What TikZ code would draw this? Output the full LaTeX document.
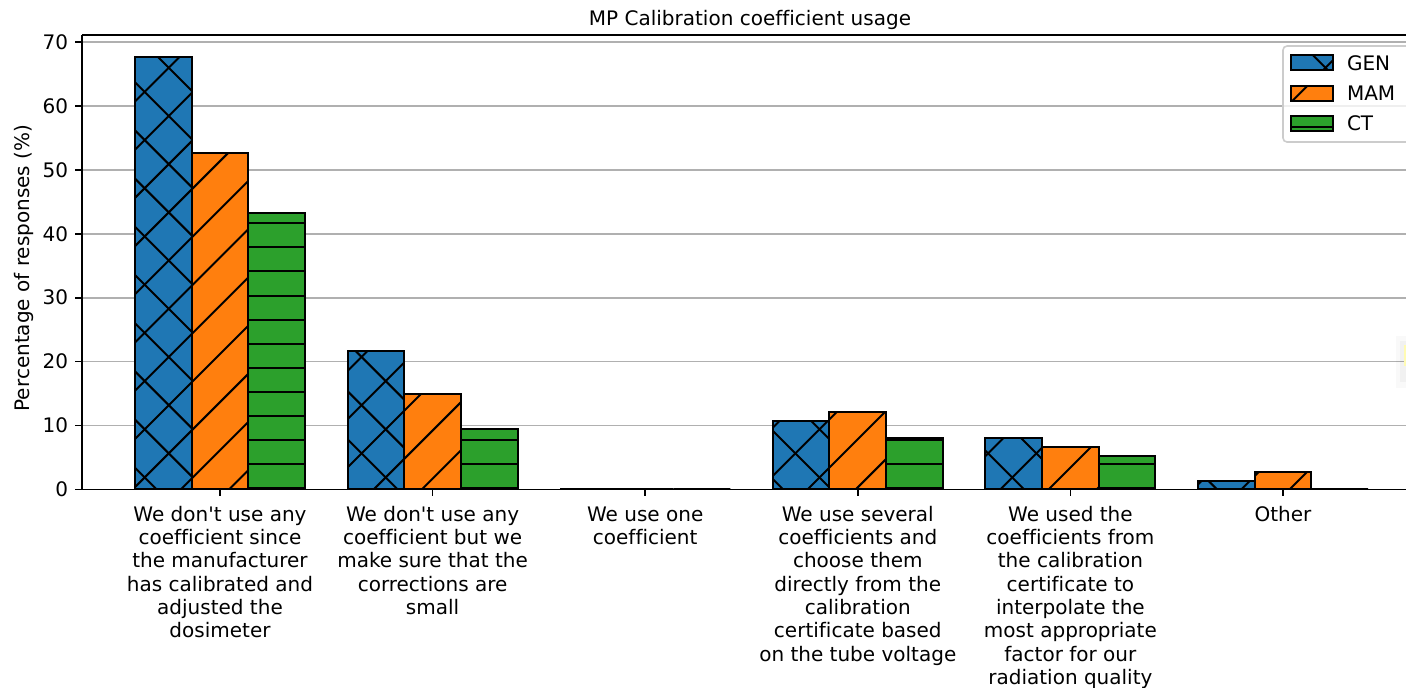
\documentclass[tikz,border=0pt]{standalone}
\usepackage{fontspec}
\setmainfont{DejaVu Sans}[Ligatures={TeXOff,CommonOff}]
\definecolor{cgen}{HTML}{1F77B4}
\definecolor{cmam}{HTML}{FF7F0E}
\definecolor{cct}{HTML}{2CA02C}
\definecolor{cgrid}{HTML}{B0B0B0}
\definecolor{cframe}{HTML}{CCCCCC}
\tikzset{
  hatchline/.style={line width=1pt, black},
  baredge/.style={line width=1pt, black, line join=miter},
  gridline/.style={line width=0.8pt, cgrid},
  spine/.style={line width=0.8pt, black},
  tickmark/.style={line width=0.8pt, black},
  lbl/.style={inner sep=0pt, outer sep=0pt, font=\fontsize{10}{11.67}\selectfont},
}
\newcommand{\hatchcross}{%
  \foreach \k in {-14,...,28}{%
    \draw[hatchline] ({718.5+48.2*\k},0) -- ({718.5+48.2*\k-800},800);
    \draw[hatchline] ({101+48.2*\k},0) -- ({101+48.2*\k+800},800);
  }}
\newcommand{\hatchdiag}{%
  \foreach \k in {-14,...,28}{%
    \draw[hatchline] ({718.5+48.2*\k},0) -- ({718.5+48.2*\k-800},800);
  }}
\newcommand{\hatchhoriz}{%
  \foreach \k in {-1,...,20}{%
    \draw[hatchline] (0,{488.3-24.1*\k}) -- (1500,{488.3-24.1*\k});
  }}
% #1 centre x, #2 top y, #3 colour, #4 hatch
\newcommand{\drawbar}[4]{%
  \fill[#3] ({#1-28.35},489.3) rectangle ({#1+28.35},#2);
  \begin{scope}
    \clip ({#1-28.35},489.3) rectangle ({#1+28.35},#2);
    #4
  \end{scope}
  \draw[baredge] ({#1-28.35},489.3) rectangle ({#1+28.35},#2);
}
% #1 group centre, #2 GEN top, #3 MAM top, #4 CT top
\newcommand{\bargroup}[4]{%
  \drawbar{#1-56.7}{#2}{cgen}{\hatchcross}
  \drawbar{#1}{#3}{cmam}{\hatchdiag}
  \drawbar{#1+56.7}{#4}{cct}{\hatchhoriz}
}
% legend patch: #1 top y, #2 colour, #3 hatch
\newcommand{\legpatch}[3]{%
  \fill[#2] (1291,#1) rectangle (1333,{#1+15});
  \begin{scope}
    \clip (1291,#1) rectangle (1333,{#1+15});
    #3
  \end{scope}
  \draw[baredge] (1291,#1) rectangle (1333,{#1+15});
}
\begin{document}
\begin{tikzpicture}[x=0.5pt,y=-0.5pt]
\useasboundingbox (0,0) rectangle (1406,687);
\clip (0,0) rectangle (1406,687);

% grid
\foreach \v in {10,20,...,70}{
  \draw[gridline] (82,{489.3-6.386*\v}) -- (1420,{489.3-6.386*\v});
}

% bars
\bargroup{220}{57.3}{152.7}{213}
\bargroup{432.6}{350.7}{394.3}{429}
\bargroup{645.2}{489.3}{489.3}{489.3}
\bargroup{857.8}{420.7}{412}{437.7}
\bargroup{1070.4}{437.7}{446.7}{455.7}
\bargroup{1283}{481}{472.3}{489.3}

% spines
\draw[spine] (82,35) -- (1420,35);
\draw[spine] (82,35) -- (82,489.3) -- (1420,489.3);

% y ticks and labels
\foreach \v in {0,10,...,70}{
  \draw[tickmark] (75,{489.3-6.386*\v}) -- (82,{489.3-6.386*\v});
  \node[lbl, anchor=base east] (yt\v) at (68,{489.3-6.386*\v+7.2}) {\v};
}

% x ticks
\foreach \c in {220,432.6,645.2,857.8,1070.4,1283}{
  \draw[tickmark] (\c,489.3) -- (\c,496.3);
}

% x tick labels
\node[lbl, anchor=north, align=center] (xl1) at (220,505) {\rule{0pt}{8pt}We don't use any\\coefficient since\\the manufacturer\\has calibrated and\\adjusted the\\dosimeter};
\node[lbl, anchor=north, align=center] (xl2) at (432.6,505) {\rule{0pt}{8pt}We don't use any\\coefficient but we\\make sure that the\\corrections are\\small};
\node[lbl, anchor=north, align=center] (xl3) at (645.2,505) {\rule{0pt}{8pt}We use one\\coefficient};
\node[lbl, anchor=north, align=center] (xl4) at (857.8,505) {\rule{0pt}{8pt}We use several\\coefficients and\\choose them\\directly from the\\calibration\\certificate based\\on the tube voltage};
\node[lbl, anchor=north, align=center] (xl5) at (1070.4,505) {\rule{0pt}{8pt}We used the\\coefficients from\\the calibration\\certificate to\\interpolate the\\most appropriate\\factor for our\\radiation quality};
\node[lbl, anchor=north, align=center] (xl6) at (1283,505) {\rule{0pt}{8pt}Other};

% axis label and title
\node[lbl, rotate=90, anchor=south] (ylab) at (34,268) {Percentage of responses (\%)};
\node[lbl, anchor=base] (title) at (750,25) {MP Calibration coefficient usage};

% legend
\draw[cframe, line width=0.8pt, fill=white, fill opacity=0.8, rounded corners=2pt] (1283,46) rectangle (1440,142);
\legpatch{55}{cgen}{\hatchcross}
\legpatch{85.7}{cmam}{\hatchdiag}
\legpatch{115.7}{cct}{\hatchhoriz}
\node[lbl, anchor=base west] (lgen) at (1347,70) {GEN};
\node[lbl, anchor=base west] (lmam) at (1347,100.7) {MAM};
\node[lbl, anchor=base west] (lct) at (1347,130.7) {CT};

% faint screen artefact at the right edge
\fill[black, opacity=0.025] (1396,336) rectangle (1406,388);
\fill[black, opacity=0.03] (1400,341) rectangle (1406,382);
\fill[yellow!30] (1404,345) rectangle (1406,366);
\end{tikzpicture}
\end{document}
